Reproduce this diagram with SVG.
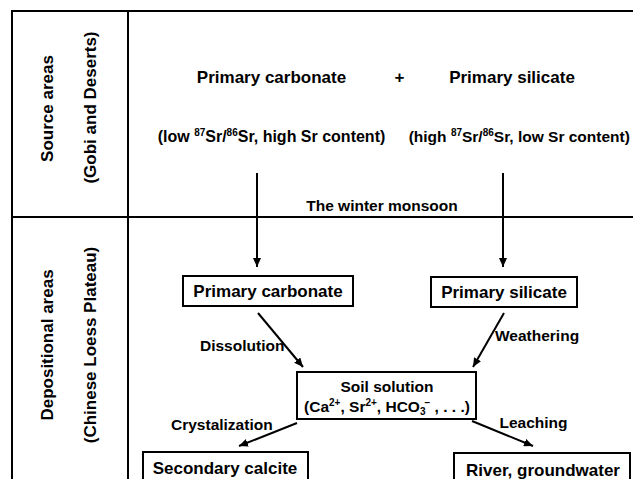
<svg xmlns="http://www.w3.org/2000/svg" width="633" height="479" viewBox="0 0 633 479">
<style>
text{font-family:"Liberation Sans",Arial,sans-serif;font-weight:bold;fill:#000}
.t17{font-size:17px}
.t15{font-size:15.5px}
.t16{font-size:16px}
.sup{font-size:10px}
.frame{fill:none;stroke:#000;stroke-width:2}
.box{fill:#fff;stroke:#000;stroke-width:2}
.conn{stroke:#000;stroke-width:2;fill:none}
</style>
<defs>
<marker id="ah" markerUnits="userSpaceOnUse" markerWidth="9" markerHeight="8" refX="9" refY="4" orient="auto">
<path d="M0,0 L9,4 L0,8 z" fill="#000"/>
</marker>
</defs>
<rect width="633" height="479" fill="#fff"/>
<g id="frame">
<path class="frame" d="M12,479 V11 H633"/>
<line class="frame" x1="128" y1="11" x2="128" y2="479"/>
<line class="frame" x1="12" y1="217" x2="633" y2="217"/>
</g>
<g id="side-labels">
<text class="t17" text-anchor="middle" transform="translate(53,108.5) rotate(-90)">Source areas</text>
<text class="t17" text-anchor="middle" transform="translate(96,107.5) rotate(-90)">(Gobi and Deserts)</text>
<text class="t17" text-anchor="middle" transform="translate(53,345) rotate(-90)">Depositional areas</text>
<text class="t17" text-anchor="middle" transform="translate(96,345) rotate(-90)">(Chinese Loess Plateau)</text>
</g>
<g id="source-carbonate">
<text class="t17" x="271.5" y="83" text-anchor="middle">Primary carbonate</text>
<text class="t16" x="271.5" y="142" text-anchor="middle">(low <tspan class="sup" dy="-6">87</tspan><tspan dy="6">Sr/</tspan><tspan class="sup" dy="-6">86</tspan><tspan dy="6">Sr, high Sr content)</tspan></text>
</g>
<g id="plus">
<text class="t17" x="399.5" y="83" text-anchor="middle">+</text>
</g>
<g id="source-silicate">
<text class="t17" x="512" y="83" text-anchor="middle">Primary silicate</text>
<text class="t15" x="408.7" y="142">(high <tspan class="sup" dy="-6">87</tspan><tspan dy="6">Sr/</tspan><tspan class="sup" dy="-6">86</tspan><tspan dy="6">Sr, low Sr content)</tspan></text>
</g>
<g id="monsoon">
<text class="t15" x="382" y="211" text-anchor="middle">The winter monsoon</text>
</g>
<g id="connectors">
<line class="conn" x1="257" y1="173" x2="257" y2="267" marker-end="url(#ah)"/>
<line class="conn" x1="503" y1="173" x2="503" y2="267" marker-end="url(#ah)"/>
<line class="conn" x1="258" y1="313" x2="303" y2="367" marker-end="url(#ah)"/>
<line class="conn" x1="504" y1="313" x2="473" y2="367" marker-end="url(#ah)"/>
<line class="conn" x1="297" y1="423" x2="239" y2="446" marker-end="url(#ah)"/>
<line class="conn" x1="472" y1="421" x2="533" y2="446" marker-end="url(#ah)"/>
<text class="t15" x="200" y="351">Dissolution</text>
<text class="t15" x="495" y="341">Weathering</text>
<text class="t15" x="171" y="430">Crystalization</text>
<text class="t15" x="499.5" y="428">Leaching</text>
</g>
<g id="primary-carbonate">
<rect class="box" x="183" y="276" width="170" height="30"/>
<text class="t17" x="268" y="297" text-anchor="middle">Primary carbonate</text>
</g>
<g id="primary-silicate">
<rect class="box" x="431" y="277" width="146" height="30"/>
<text class="t17" x="504" y="298" text-anchor="middle">Primary silicate</text>
</g>
<g id="soil-solution">
<rect class="box" x="297" y="372" width="179" height="47"/>
<text class="t15" x="387" y="392" text-anchor="middle">Soil solution</text>
<text class="t15" x="387" y="412" text-anchor="middle">(Ca<tspan class="sup" dy="-6">2+</tspan><tspan dy="6">, Sr</tspan><tspan class="sup" dy="-6">2+</tspan><tspan dy="6">, HCO</tspan><tspan class="sup" dy="3">3</tspan><tspan class="sup" dx="-1" dy="-9">−</tspan><tspan dy="6"> , . . .)</tspan></text>
</g>
<g id="secondary-calcite">
<rect class="box" x="143" y="452" width="165" height="40"/>
<text class="t17" x="225" y="474" text-anchor="middle">Secondary calcite</text>
</g>
<g id="river-groundwater">
<rect class="box" x="454" y="453" width="176" height="40"/>
<text class="t17" x="543" y="476" text-anchor="middle">River, groundwater</text>
</g>
</svg>
